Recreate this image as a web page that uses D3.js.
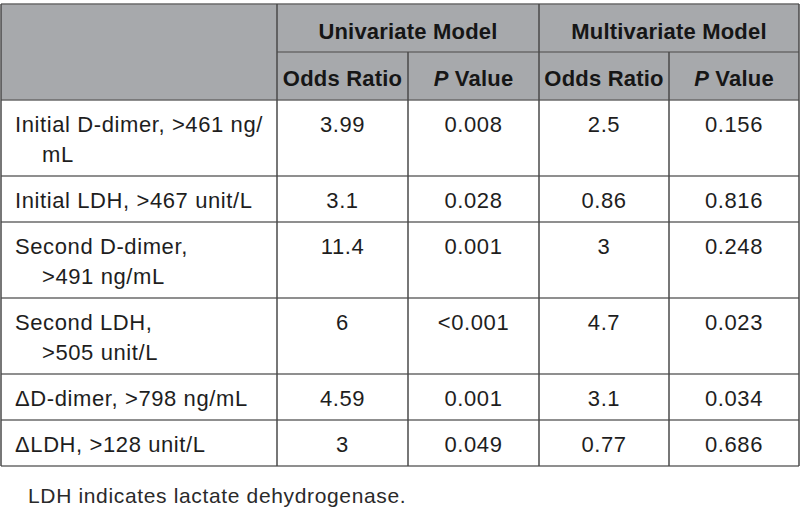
<!DOCTYPE html>
<meta charset="utf-8">
<style>
    body { margin: 0; background: #fff; }
    svg { font-family: "Liberation Sans", Arial, sans-serif; }
    .hdr { fill: #a7a9ac; }
    .hline { stroke: #6a6a6a; stroke-width: 1.5; }
    .vline { stroke: #4a4a4a; stroke-width: 1.5; }
    .cell { font-size: 22px; letter-spacing: 0.6px; fill: #1e1e1e; }
    .head { font-size: 22px; letter-spacing: 0.2px; font-weight: bold; fill: #161616; }
    .note { font-size: 21px; letter-spacing: 0.65px; fill: #2a2a2a; }
</style>

<svg width="800" height="512"></svg>

<script src="https://d3js.org/d3.v7.min.js"></script>
<script>
// table content
var groups = ["Univariate Model", "Multivariate Model"];
var subHeads = ["Odds Ratio", "P Value"];
var rowLabels = [
    ["Initial D-dimer, >461 ng/", "mL"],
    ["Initial LDH, >467 unit/L"],
    ["Second D-dimer,", ">491 ng/mL"],
    ["Second LDH,", ">505 unit/L"],
    ["\u0394D-dimer, >798 ng/mL"],
    ["\u0394LDH, >128 unit/L"]
];
var uniOR = ["3.99", "3.1", "11.4", "6", "4.59", "3"];
var uniP = ["0.008", "0.028", "0.001", "<0.001", "0.001", "0.049"];
var multiOR = ["2.5", "0.86", "3", "4.7", "3.1", "0.77"];
var multiP = ["0.156", "0.816", "0.248", "0.023", "0.034", "0.686"];
var footnote = "LDH indicates lactate dehydrogenase.";

var colEdges = [1, 277, 408, 539, 669, 799];
var yTop = 4, h1 = 52, h2 = 100;
var lineH = 30;

var svg = d3.select("svg");

// row geometry from label line counts
var rows = [];
var y = h2;
rowLabels.forEach(function(lab, i) {
    var h = 16 + lab.length * lineH;
    rows.push({ y0: y, y1: y + h, label: lab,
        vals: [uniOR[i], uniP[i], multiOR[i], multiP[i]] });
    y += h;
});
var bottom = y;

// header background
svg.append("rect").attr("class", "hdr")
    .attr("x", colEdges[0]).attr("y", yTop)
    .attr("width", colEdges[5] - colEdges[0]).attr("height", h2 - yTop);

// horizontal lines
var hl = [yTop, h2].concat(rows.map(function(r) { return r.y1; }));
svg.selectAll("line.h").data(hl).enter().append("line")
    .attr("class", "hline")
    .attr("x1", colEdges[0]).attr("x2", colEdges[5])
    .attr("y1", function(d) { return d; }).attr("y2", function(d) { return d; });
svg.append("line").attr("class", "hline")
    .attr("x1", colEdges[1]).attr("x2", colEdges[5])
    .attr("y1", h1).attr("y2", h1);

// vertical lines
svg.selectAll("line.v").data(colEdges).enter().append("line")
    .attr("class", "vline")
    .attr("x1", function(d) { return d; }).attr("x2", function(d) { return d; })
    .attr("y1", function(d, i) { return (i == 2 || i == 4) ? h1 : yTop; })
    .attr("y2", bottom);

// group headers
groups.forEach(function(g, i) {
    svg.append("text").attr("class", "head")
        .attr("x", (colEdges[1 + 2 * i] + colEdges[3 + 2 * i]) / 2)
        .attr("y", yTop + 35)
        .attr("text-anchor", "middle")
        .text(g);
});

// sub headers
for (var c = 0; c < 4; c++) {
    var t = svg.append("text").attr("class", "head")
        .attr("x", (colEdges[c + 1] + colEdges[c + 2]) / 2)
        .attr("y", h1 + 34)
        .attr("text-anchor", "middle");
    var s = subHeads[c % 2];
    if (s.charAt(0) == "P" && s.charAt(1) == " ") {
        t.append("tspan").style("font-style", "italic").text("P");
        t.append("tspan").text(s.slice(1));
    } else {
        t.text(s);
    }
}

// body
rows.forEach(function(r) {
    var t = svg.append("text").attr("class", "cell");
    r.label.forEach(function(l, k) {
        t.append("tspan")
            .attr("x", k == 0 ? 15 : 42)
            .attr("y", r.y0 + 32 + k * lineH)
            .text(l);
    });
    r.vals.forEach(function(v, c) {
        svg.append("text").attr("class", "cell")
            .attr("x", (colEdges[c + 1] + colEdges[c + 2]) / 2)
            .attr("y", r.y0 + 32)
            .attr("text-anchor", "middle")
            .text(v);
    });
});

svg.append("text").attr("class", "note")
    .attr("x", 28).attr("y", bottom + 37)
    .text(footnote);
</script>
